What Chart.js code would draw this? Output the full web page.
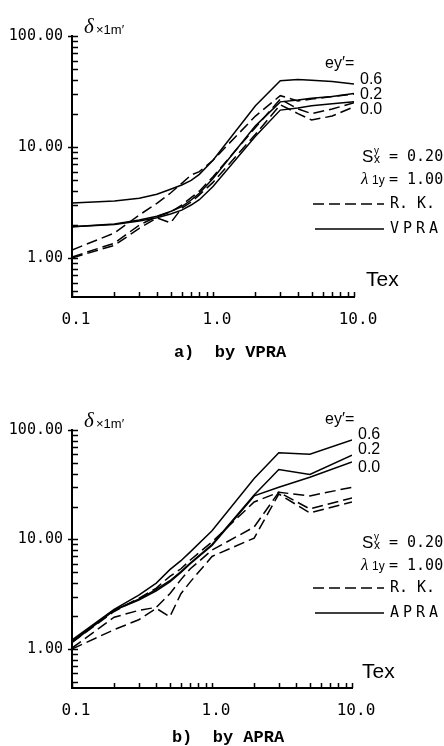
<!DOCTYPE html>
<html>
<head>
  <title>delta vs Tex</title>
  <script src="https://cdn.jsdelivr.net/npm/chart.js"></script>
  <style>
    body { margin: 0; background: #fff; }
    .box { position: absolute; left: 0; width: 444px; height: 373px; }
  </style>
</head>
<body>
  <div class="box" style="top:0"><canvas id="chart-a" width="444" height="373"></canvas></div>
  <div class="box" style="top:373px"><canvas id="chart-b" width="444" height="373"></canvas></div>

  <script>
    // Tex values where the curves were read
    let texA = [0.1, 0.2, 0.3, 0.4, 0.5, 0.6, 0.7, 0.8, 1.0, 2.0, 3.0, 4.0, 5.0, 7.0, 10.0];
    let texB = [0.1, 0.2, 0.3, 0.4, 0.5, 0.6, 0.7, 1.0, 2.0, 3.0, 5.0, 10.0];

    // a) VPRA (solid) and R. K. (dashed), ey' = 0.6 / 0.2 / 0.0
    let vpra06 = [3.13, 3.26, 3.45, 3.75, 4.16, 4.55, 5.0, 5.67, 7.6, 23.5, 39.5, 40.5, 40, 39, 37];
    let vpra02 = [1.91, 2.02, 2.2, 2.38, 2.62, 2.9, 3.33, 3.83, 5.2, 15.5, 25.5, 26.5, 27.5, 28.5, 30.4];
    let vpra00 = [1.91, 2.0, 2.15, 2.3, 2.49, 2.7, 3.0, 3.35, 4.4, 12.5, 21.5, 22.5, 23.5, 24.5, 25.6];
    let rkA06 = [1.18, 1.68, 2.44, 3.1, 3.85, 4.7, 5.6, 6.0, 7.6, 19, 29, 26, 27, 28.5, 30];
    let rkA02 = [1.02, 1.36, 1.98, 2.36, 2.6, 3.0, 3.5, 4.0, 5.4, 15, 27, 22, 20, 22, 25];
    let rkA00 = [1.0, 1.3, 1.85, 2.3, 2.07, 2.8, 3.2, 3.7, 4.8, 13, 24, 20, 17.5, 19, 23];

    // b) APRA (solid) and R. K. (dashed)
    let apra06 = [1.21, 2.3, 3.1, 4.0, 5.3, 6.4, 7.7, 12, 36, 62, 60, 81];
    let apra02 = [1.18, 2.27, 2.85, 3.5, 4.2, 5.1, 6.1, 9.0, 25.5, 43.6, 39.3, 59];
    let apra00 = [1.15, 2.25, 2.8, 3.4, 4.1, 5.0, 6.0, 8.8, 25, 30, 37, 51];
    let rkB06 = [1.15, 2.2, 2.9, 3.6, 4.6, 5.4, 6.5, 9.5, 22, 27, 25, 30];
    let rkB02 = [1.02, 1.95, 2.25, 2.4, 3.2, 4.3, 5.4, 8.0, 13, 27, 19, 24];
    let rkB00 = [1.0, 1.5, 1.85, 2.35, 1.97, 3.2, 4.1, 7.0, 10.3, 26, 17.5, 22];

    // ticks
    let yTicks = [0.5, 0.6, 0.7, 0.8, 0.9, 1, 2, 3, 4, 5, 6, 7, 8, 9, 10, 20, 30, 40, 50, 60, 70, 80, 90, 100];
    let yMajor = [1, 10, 100];
    let yMajorLabels = ["1.00", "10.00", "100.00"];
    let xTicks = [0.1, 0.2, 0.3, 0.4, 0.5, 0.6, 0.7, 0.8, 0.9, 1, 2, 3, 4, 5, 6, 7, 8, 9, 10];
    let xMajor = [0.1, 1, 10];
    let xMajorLabels = ["0.1", "1.0", "10.0"];

    function majorLabel(v, majors, labels) {
      let i = majors.findIndex(m => Math.abs(m - v) < 1e-9);
      return i < 0 ? "" : labels[i];
    }

    function series(tex, vals, dashed) {
      return {
        data: tex.map((t, i) => ({ x: t, y: vals[i] })),
        borderColor: "#000",
        borderWidth: 1.5,
        borderDash: dashed ? [11, 5] : [],
        pointRadius: 0,
        tension: 0,
        fill: false
      };
    }

    // inward tick marks, like the plotter output
    let inTicks = {
      id: "inTicks",
      afterDraw(chart) {
        let ctx = chart.ctx;
        let a = chart.chartArea;
        let x = chart.scales.x, y = chart.scales.y;
        ctx.save();
        ctx.strokeStyle = "#000";
        ctx.lineWidth = 1.5;
        ctx.beginPath();
        yTicks.forEach(v => {
          let p = Math.round(y.getPixelForValue(v)) + 0.5;
          ctx.moveTo(a.left, p);
          ctx.lineTo(a.left + 6, p);
          if (yMajor.includes(v)) { ctx.moveTo(a.left - 4, p); ctx.lineTo(a.left, p); }
        });
        xTicks.forEach(v => {
          let p = Math.round(x.getPixelForValue(v)) + 0.5;
          ctx.moveTo(p, a.bottom);
          ctx.lineTo(p, a.bottom - 5);
        });
        ctx.stroke();
        ctx.restore();
      }
    };

    function txt(ctx, s, x, y, font, align) {
      ctx.font = font;
      ctx.textAlign = align || "left";
      ctx.fillText(s, x, y);
    }

    function spaced(ctx, s, x, y, font, step) {
      ctx.font = font;
      ctx.textAlign = "left";
      for (let i = 0; i < s.length; i++) ctx.fillText(s[i], x + i * step, y);
    }

    // labels, legend and caption
    let notes = {
      id: "notes",
      afterDraw(chart, args, o) {
        let ctx = chart.ctx;
        let dy = o.dy;
        ctx.save();
        ctx.fillStyle = "#000";
        ctx.strokeStyle = "#000";
        ctx.textBaseline = "middle";
        let sans = '"Liberation Sans", sans-serif';
        let mono = '"DejaVu Sans Mono", monospace';

        // axis titles
        txt(ctx, "δ", 84, 27 + dy, "italic 21px \"Liberation Serif\", serif");
        txt(ctx, "×1m′", 96, 30 + dy, "13px " + sans);
        txt(ctx, "Tex", o.texX, o.texY, "21px " + sans);

        // ey' labels
        txt(ctx, "ey′=", 325, o.eyY, "16px " + sans);
        txt(ctx, "0.6", o.labX, o.labY[0], "16px " + sans);
        txt(ctx, "0.2", o.labX, o.labY[1], "16px " + sans);
        txt(ctx, "0.0", o.labX, o.labY[2], "16px " + sans);

        // parameters
        txt(ctx, "S", 362, o.sY, "17px " + sans);
        txt(ctx, "y", 374, o.sY - 6, "10px " + sans);
        txt(ctx, "x", 374, o.sY + 3, "12px " + sans);
        txt(ctx, "= 0.20", 389, o.sY, "15px " + mono);
        txt(ctx, "λ", 361, o.sY + 23, "italic 17px \"Liberation Serif\", serif");
        txt(ctx, "1y", 372, o.sY + 24, "12px " + sans);
        txt(ctx, "= 1.00", 389, o.sY + 23, "15px " + mono);

        // legend
        ctx.lineWidth = 1.5;
        ctx.setLineDash([11, 5]);
        ctx.beginPath(); ctx.moveTo(313, o.legY); ctx.lineTo(384, o.legY); ctx.stroke();
        ctx.setLineDash([]);
        ctx.beginPath(); ctx.moveTo(315, o.legY + 25); ctx.lineTo(384, o.legY + 25); ctx.stroke();
        txt(ctx, "R. K.", 390, o.legY, "15px " + mono);
        spaced(ctx, o.method, 390, o.legY + 25, "15px " + mono, 13);

        // caption
        txt(ctx, o.caption, o.capX, o.capY, "bold 17px \"Liberation Mono\", monospace", "center");
        ctx.restore();
      }
    };

    function makeChart(id, tex, solid, dashed, pad, notesOpt) {
      let sets = [];
      solid.forEach(v => sets.push(series(tex, v, false)));
      dashed.forEach(v => sets.push(series(tex, v, true)));
      return new Chart(document.getElementById(id), {
        type: "line",
        data: { datasets: sets },
        plugins: [inTicks, notes],
        options: {
          responsive: false,
          animation: false,
          layout: { padding: pad },
          plugins: {
            legend: { display: false },
            tooltip: { enabled: false },
            notes: notesOpt
          },
          scales: {
            x: {
              type: "logarithmic",
              min: 0.1,
              max: 10,
              afterBuildTicks: s => { s.ticks = xTicks.map(v => ({ value: v })); },
              afterFit: s => { s.height = 40; },
              grid: { display: true, drawOnChartArea: false, drawTicks: false },
              border: { color: "#000", width: 2 },
              ticks: {
                autoSkip: false,
                maxRotation: 0,
                padding: 13,
                labelOffset: 4,
                color: "#000",
                font: { family: '"DejaVu Sans Mono", monospace', size: 16 },
                callback: v => majorLabel(v, xMajor, xMajorLabels)
              }
            },
            y: {
              type: "logarithmic",
              min: notesOpt.yMin,
              max: 100,
              afterBuildTicks: s => { s.ticks = yTicks.map(v => ({ value: v })); },
              afterFit: s => { s.width = 72; },
              grid: { display: true, drawOnChartArea: false, drawTicks: false },
              border: { color: "#000", width: 2 },
              ticks: {
                autoSkip: false,
                padding: 9,
                color: "#000",
                font: { family: '"DejaVu Sans Mono", monospace', size: 15 },
                callback: v => majorLabel(v, yMajor, yMajorLabels)
              }
            }
          }
        }
      });
    }

    makeChart("chart-a", texA, [vpra06, vpra02, vpra00], [rkA06, rkA02, rkA00],
      { left: 0, top: 36, right: 90, bottom: 36 },
      {
        dy: 0, yMin: 0.445, method: "VPRA", caption: "a)  by VPRA", capX: 230, capY: 353,
        eyY: 64, labX: 360, labY: [80, 95, 110], sY: 157, legY: 204, texX: 366, texY: 280
      });

    makeChart("chart-b", texB, [apra06, apra02, apra00], [rkB06, rkB02, rkB00],
      { left: 0, top: 57, right: 92, bottom: 18 },
      {
        dy: 57 - 36, yMin: 0.44, method: "APRA", caption: "b)  by APRA", capX: 228, capY: 365,
        eyY: 47, labX: 358, labY: [62, 77, 95], sY: 170, legY: 215, texX: 362, texY: 299
      });
  </script>
</body>
</html>
